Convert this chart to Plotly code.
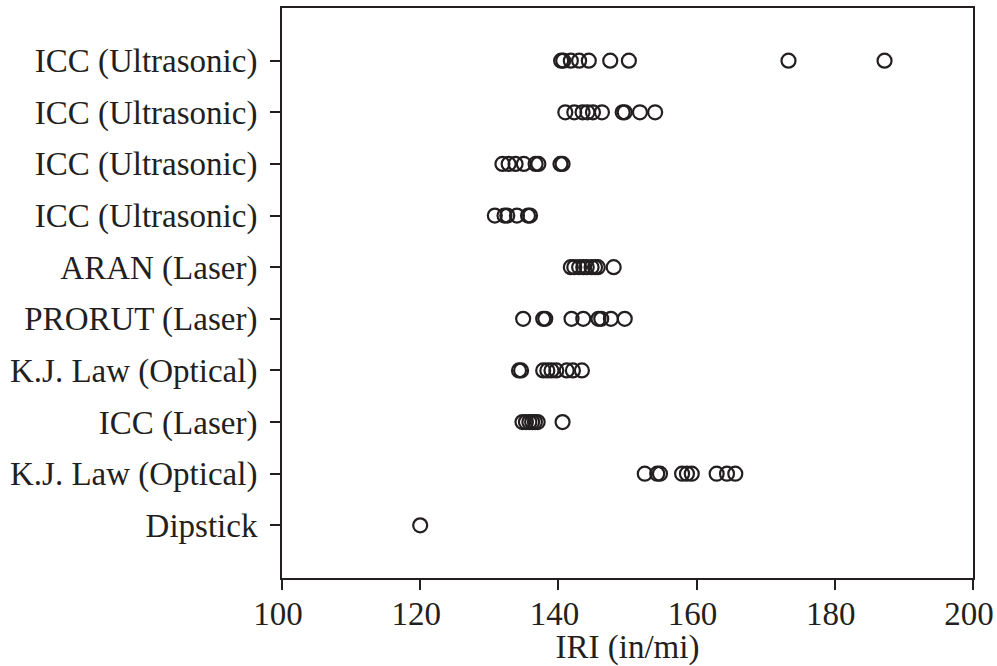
import plotly.graph_objects as go

# Category labels (bottom to top)
labels = ["Dipstick", "K.J. Law (Optical)", "ICC (Laser)", "K.J. Law (Optical)",
          "PRORUT (Laser)", "ARAN (Laser)", "ICC (Ultrasonic)", "ICC (Ultrasonic)",
          "ICC (Ultrasonic)", "ICC (Ultrasonic)"]

# IRI values per row (bottom to top)
dipstick = [120.0]
kj_law_2 = [152.5, 154.3, 154.7, 157.9, 158.6, 159.3, 162.9, 164.4, 165.6]
icc_laser = [134.8, 135.3, 135.8, 136.2, 136.6, 137.0, 140.6]
kj_law_1 = [134.3, 134.6, 137.8, 138.4, 139.0, 139.7, 141.2, 142.1, 143.4]
prorut = [134.9, 137.8, 138.1, 141.9, 143.6, 145.8, 146.2, 147.6, 149.6]
aran = [141.8, 142.3, 143.0, 143.6, 144.1, 144.8, 145.3, 145.7, 148.0]
icc_ultra_4 = [130.8, 132.2, 132.6, 134.0, 135.6, 135.9]
icc_ultra_3 = [131.9, 132.8, 133.8, 135.0, 136.7, 137.1, 140.3, 140.6]
icc_ultra_2 = [141.0, 142.3, 143.5, 144.2, 145.0, 146.3, 149.3, 149.6, 151.8, 154.0]
icc_ultra_1 = [140.4, 140.7, 141.8, 143.0, 144.4, 147.5, 150.2, 173.3, 187.2]

rows = [dipstick, kj_law_2, icc_laser, kj_law_1, prorut, aran,
        icc_ultra_4, icc_ultra_3, icc_ultra_2, icc_ultra_1]

x_tick_vals = [100, 120, 140, 160, 180, 200]

ink = "#231f20"
xs, ys = [], []
for i, r in enumerate(rows):
    xs.extend(r)
    ys.extend([i] * len(r))

fig = go.Figure()
fig.add_trace(go.Scatter(
    x=xs, y=ys, mode="markers",
    marker=dict(symbol="circle-open", size=14, color=ink, line=dict(width=2.2, color=ink)),
    showlegend=False, hoverinfo="x"))

font = dict(family="Liberation Serif, Times New Roman, serif", size=33, color=ink)

fig.update_layout(
    width=997, height=666,
    margin=dict(l=282, r=24, t=8, b=88),
    paper_bgcolor="white", plot_bgcolor="white",
    font=font,
)
fig.update_xaxes(
    range=[100, 200], tickvals=x_tick_vals, ticks="outside", ticklen=10, tickwidth=2,
    tickcolor=ink, showline=True, linewidth=2, linecolor=ink, mirror=True,
    showgrid=False, zeroline=False, ticklabelstandoff=-5, ticklabelshift=-4,
    automargin=False,
    title=dict(text="IRI (in/mi)", standoff=0, font=font), tickfont=font,
)
fig.update_yaxes(
    range=[-1.02, 10.02], tickvals=list(range(len(labels))), ticktext=labels,
    ticks="outside", ticklen=10, tickwidth=2, tickcolor=ink,
    showline=True, linewidth=2, linecolor=ink, mirror=True, automargin=False,
    showgrid=False, zeroline=False, ticklabelstandoff=6, tickfont=font,
)

fig.write_html("out.html", config={"displayModeBar": False},
               post_script="document.body.style.margin='0';document.body.style.overflow='hidden';")
